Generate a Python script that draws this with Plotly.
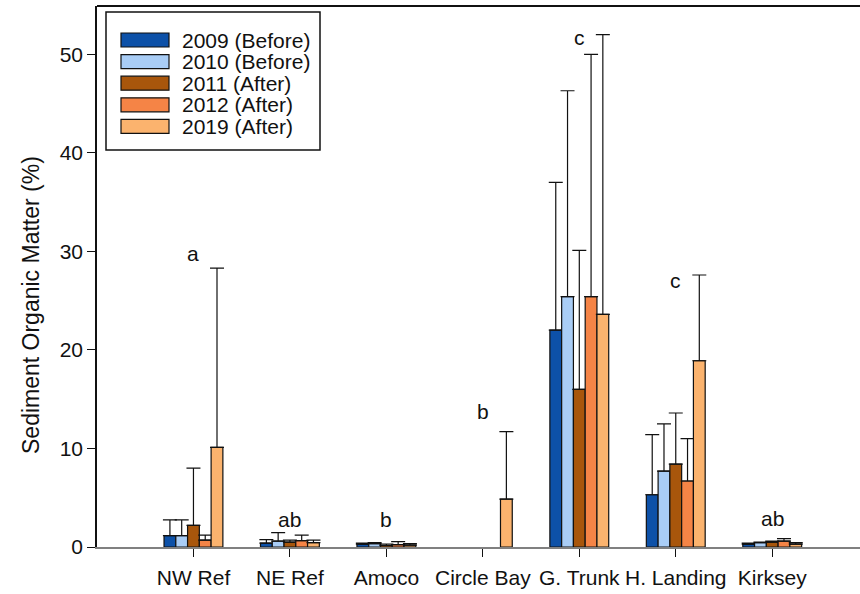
import plotly.graph_objects as go

sites = ["NW Ref", "NE Ref", "Amoco", "Circle Bay", "G. Trunk", "H. Landing", "Kirksey"]
years = ["2009 (Before)", "2010 (Before)", "2011 (After)", "2012 (After)", "2019 (After)"]
colors = ["#0d51a8", "#a9cdf6", "#a8560c", "#f58446", "#fbb36e"]

v2009 = [1.15, 0.4, 0.3, None, 22.0, 5.3, 0.3]
v2010 = [1.15, 0.6, 0.35, None, 25.4, 7.7, 0.45]
v2011 = [2.2, 0.5, 0.15, None, 16.0, 8.4, 0.5]
v2012 = [0.7, 0.65, 0.25, None, 25.4, 6.7, 0.6]
v2019 = [10.1, 0.45, 0.2, 4.85, 23.6, 18.9, 0.3]

e2009 = [2.75, 0.75, 0.4, None, 37.0, 11.4, 0.4]
e2010 = [2.75, 1.45, 0.45, None, 46.3, 12.5, 0.5]
e2011 = [8.0, 0.7, 0.3, None, 30.1, 13.6, 0.6]
e2012 = [1.2, 1.2, 0.55, None, 50.0, 11.0, 0.85]
e2019 = [28.3, 0.7, 0.35, 11.7, 52.0, 27.6, 0.45]

letters = ["a", "ab", "b", "b", "c", "c", "ab"]
letter_y = [29.8, 2.8, 2.8, 13.8, 51.7, 27.0, 2.9]

y_title = "Sediment Organic Matter (%)"

values = [v2009, v2010, v2011, v2012, v2019]
uppers = [e2009, e2010, e2011, e2012, e2019]

FONT = "Liberation Sans, Arial, sans-serif"
FS = 21

fig = go.Figure()
for name, col, vals, ups in zip(years, colors, values, uppers):
    err = [(u - v) if (u is not None and v is not None) else None for u, v in zip(ups, vals)]
    fig.add_trace(go.Bar(
        x=sites, y=vals, name=name,
        marker=dict(color=col, line=dict(color="#111111", width=1.2)),
        error_y=dict(type="data", symmetric=False, array=err,
                     arrayminus=[0] * len(err), color="#111111",
                     thickness=1.2, width=7),
        showlegend=False,
    ))

for s, t, yv in zip(sites, letters, letter_y):
    fig.add_annotation(x=s, y=yv, text=t, showarrow=False, xref="x", yref="y",
                       font=dict(family=FONT, size=FS, color="#111111"))

# plot area in pixels: x 97..860, y 6..547
PX0, PW, PY0, PH = 97, 763, 6, 541


def px(x):
    return (x - PX0) / PW


def py(y):
    return 1 - (y - PY0) / PH


# y-axis title
fig.add_annotation(x=px(31), y=py(305), xref="paper", yref="paper", text=y_title,
                   textangle=-90, showarrow=False, xanchor="center", yanchor="middle",
                   font=dict(family=FONT, size=23, color="#111111"))

# custom legend (wide swatches like the original)
row_h = 21.6
fig.add_shape(type="rect", xref="paper", yref="paper",
              x0=px(106), x1=px(320), y0=py(150), y1=py(12),
              line=dict(color="#111111", width=1.5), fillcolor="white")
for i, (name, col) in enumerate(zip(years, colors)):
    yc = 40 + i * row_h
    fig.add_shape(type="rect", xref="paper", yref="paper",
                  x0=px(121), x1=px(169), y0=py(yc + 7), y1=py(yc - 7),
                  line=dict(color="#111111", width=1.2), fillcolor=col)
    fig.add_annotation(x=px(180), y=py(yc), xref="paper", yref="paper",
                       text=name, showarrow=False, xanchor="left", yanchor="middle",
                       font=dict(family=FONT, size=FS, color="#111111"))

# top frame line
fig.add_shape(type="line", xref="paper", yref="paper", x0=0, x1=1, y0=1, y1=1,
              line=dict(color="#111111", width=2))

fig.update_layout(
    width=860, height=594,
    margin=dict(l=97, r=0, t=6, b=47),
    paper_bgcolor="white", plot_bgcolor="white",
    barmode="group", bargap=0.39, bargroupgap=0,
    font=dict(family=FONT, size=FS, color="#111111"),
    xaxis=dict(type="category", range=[-1, 6.91], showgrid=False,
               showline=True, linecolor="#808080", linewidth=1.5,
               ticks="outside", ticklen=8, tickcolor="#111111", tickwidth=1.2,
               ticklabelstandoff=3,
               tickfont=dict(family=FONT, size=FS, color="#111111"), zeroline=False),
    yaxis=dict(range=[0, 54.9], showgrid=False, zeroline=False,
               showline=True, linecolor="#111111", linewidth=1.5,
               ticks="outside", ticklen=8, tickcolor="#111111", tickwidth=1.2,
               tickvals=[0, 10, 20, 30, 40, 50],
               tickfont=dict(family=FONT, size=FS, color="#111111")),
)

fig.write_html("out.html", config={"displayModeBar": False},
               post_script="document.body.style.margin='0';")
